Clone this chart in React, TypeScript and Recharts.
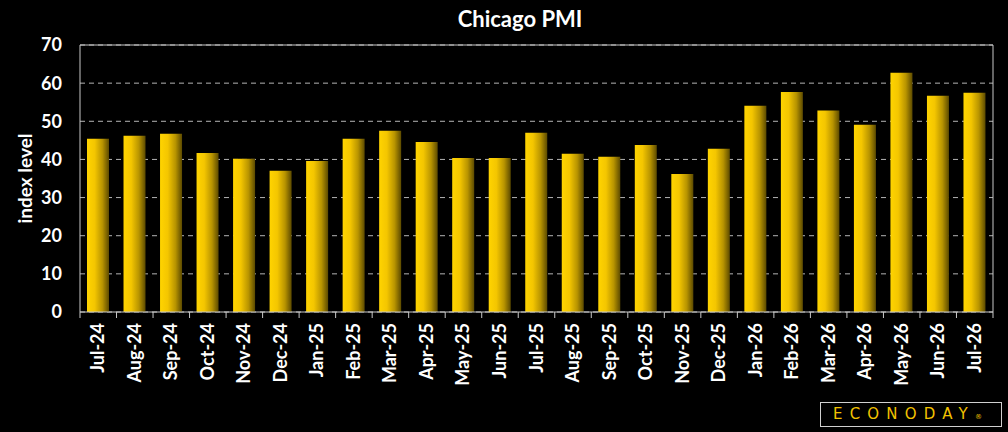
import { BarChart, Bar, XAxis, YAxis, CartesianGrid, ReferenceLine } from 'recharts';

const months = [
  'Jul-24', 'Aug-24', 'Sep-24', 'Oct-24', 'Nov-24', 'Dec-24', 'Jan-25', 'Feb-25', 'Mar-25',
  'Apr-25', 'May-25', 'Jun-25', 'Jul-25', 'Aug-25', 'Sep-25', 'Oct-25', 'Nov-25', 'Dec-25',
  'Jan-26', 'Feb-26', 'Mar-26', 'Apr-26', 'May-26', 'Jun-26', 'Jul-26',
];
const pmi = [
  45.4, 46.2, 46.7, 41.7, 40.2, 37.0, 39.6, 45.4, 47.5,
  44.6, 40.4, 40.4, 47.0, 41.5, 40.7, 43.8, 36.2, 42.8,
  54.1, 57.7, 52.8, 49.1, 62.7, 56.7, 57.5,
];
const yTicks = [0, 10, 20, 30, 40, 50, 60, 70];

const data = months.map((month, i) => ({ month, pmi: pmi[i] }));

const FONT = 'Lato, "DejaVu Sans", sans-serif';
const AXIS = '#c8c8c8';

function MonthTick(props: any) {
  const { x, y, payload, index } = props;
  const half = payload?.offset ?? 0;
  return (
    <g>
      <line x1={x - half} x2={x - half} y1={y} y2={y + 6} stroke={AXIS} />
      {index === months.length - 1 && (
        <line x1={x + half} x2={x + half} y1={y} y2={y + 6} stroke={AXIS} />
      )}
      <text
        x={x}
        y={y + 11}
        transform={`rotate(-90 ${x} ${y + 11})`}
        textAnchor="end"
        dy={6}
        fill="#fff"
        fontSize={18}
        fontWeight={700}
        fontFamily={FONT}
      >
        {payload.value}
      </text>
    </g>
  );
}

function AxisTitle(props: any) {
  const { viewBox } = props;
  const cx = 24;
  const cy = viewBox.y + viewBox.height / 2;
  return (
    <text
      x={cx}
      y={cy}
      transform={`rotate(-90 ${cx} ${cy})`}
      textAnchor="middle"
      dominantBaseline="central"
      fill="#fff"
      fontSize={19}
      fontWeight={700}
      fontFamily={FONT}
    >
      index level
    </text>
  );
}

export default function App() {
  return (
    <div style={{ position: 'fixed', left: 0, top: 0, width: 1008, height: 432, background: '#000', fontFamily: FONT }}>
      <div
        style={{
          position: 'absolute', left: 0, width: 1040, top: 5, textAlign: 'center',
          color: '#fff', fontSize: 22, fontWeight: 700,
        }}
      >
        Chicago PMI
      </div>
      <BarChart
        width={1008}
        height={432}
        data={data}
        margin={{ top: 45, right: 0, left: 0, bottom: 0 }}
      >
        <defs>
          <linearGradient id="goldBar" x1="0" y1="0" x2="1" y2="0">
            <stop offset="0%" stopColor="#ffd400" />
            <stop offset="35%" stopColor="#f4c600" />
            <stop offset="70%" stopColor="#b89400" />
            <stop offset="100%" stopColor="#5c4a00" />
          </linearGradient>
        </defs>
        <CartesianGrid vertical={false} stroke="#b4b4b4" strokeDasharray="5 4" yAxisId="left" />
        <XAxis
          dataKey="month"
          interval={0}
          height={120}
          tickLine={false}
          tickSize={0}
          tickMargin={0}
          axisLine={{ stroke: AXIS }}
          tick={<MonthTick />}
        />
        <YAxis
          yAxisId="left"
          domain={[0, 70]}
          ticks={yTicks}
          width={80}
          tickLine={false}
          tickSize={6}
          tickMargin={12}
          axisLine={{ stroke: AXIS }}
          tick={{ fill: '#fff', fontSize: 18, fontWeight: 700, fontFamily: FONT }}
          label={<AxisTitle />}
        />
        <YAxis
          yAxisId="right"
          orientation="right"
          width={15}
          domain={[0, 70]}
          tick={false}
          tickLine={false}
          axisLine={{ stroke: AXIS }}
        />
        <ReferenceLine y={70} yAxisId="left" stroke={AXIS} />
        <Bar dataKey="pmi" yAxisId="left" fill="url(#goldBar)" barSize={22} isAnimationActive={false} />
      </BarChart>
      <div
        style={{
          position: 'absolute', left: 820, top: 402, width: 182, height: 25,
          border: '1px solid #d0d0d0', boxSizing: 'border-box', color: '#f2c200',
          fontSize: 15, fontWeight: 400, letterSpacing: 7.2, lineHeight: '23px',
          paddingLeft: 12, whiteSpace: 'nowrap', fontFamily: '"DejaVu Sans", sans-serif',
        }}
      >
        ECONODAY<span style={{ fontSize: 7, letterSpacing: 0 }}>®</span>
      </div>
    </div>
  );
}
